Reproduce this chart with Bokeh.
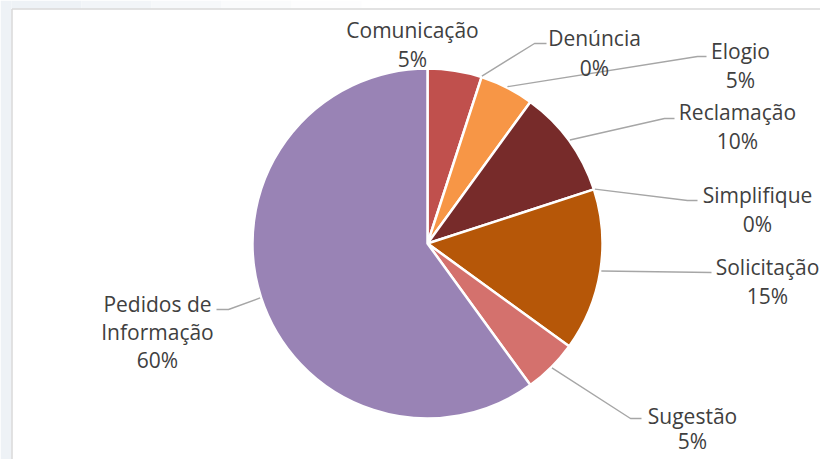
import math
from bokeh.plotting import figure
from bokeh.models import Range1d
from bokeh.core.properties import value
from bokeh.embed import file_html
from bokeh.resources import INLINE

# ---- data ----
categories = ["Comunicação", "Denúncia", "Elogio", "Reclamação", "Simplifique",
              "Solicitação", "Sugestão", "Pedidos de\nInformação"]
counts = [1, 0, 1, 2, 0, 3, 1, 12]
colors = ["#C0504D", "#F79646", "#F79646", "#772B2A", "#B65708",
          "#B65708", "#D4716D", "#9983B5"]

# ---- layout (pixel coordinates from the figure's top-left) ----
W, H = 820, 459


def fy(py):
    return H - py


CX, CY, R = 427, 243, 175
# label anchor (center of first text line) and leader elbow/end points; None = no leader
label_pos = [(412, 29), (594, 37), (740, 50), (737, 111), (757, 194),
             (767, 266), (692, 415), (157, 303)]
line_step = [29, 30, 29, 29, 29, 29, 25, 28]
leader_pts = [None,
              [(534, 43), (546, 43)],
              [(697, 56), (706, 56)],
              [(664, 118), (674, 118)],
              [(687, 200), (697, 200)],
              [(711, 272)],
              [(630, 418), (641, 418)],
              [(228, 309), (216, 309)]]

p = figure(width=W, height=H, output_backend="svg", toolbar_location=None,
           x_range=Range1d(0, W), y_range=Range1d(0, H),
           x_axis_type=None, y_axis_type=None, min_border=0,
           outline_line_color=None, background_fill_color="white",
           border_fill_color="white")
p.grid.visible = False

# page background (light gradient outside the chart frame) and the frame itself
p.quad(left=[0], right=[11], bottom=[0], top=[fy(0)], fill_color="#EEF2F6", line_color=None)
grad = ["#EEF2F6", "#F2F5F8", "#F6F8FA", "#FAFBFC", "#FDFDFE"]
for k, c in enumerate(grad):
    p.quad(left=[11 + k * 70], right=[11 + (k + 1) * 70], bottom=[fy(8)], top=[fy(0)],
           fill_color=c, line_color=None)
p.line(x=[11.5, 11.5], y=[0, fy(8.5)], line_color="#D9D9D9", line_width=1.5)
p.line(x=[11.5, W], y=[fy(8.5), fy(8.5)], line_color="#D9D9D9", line_width=1.5)

total = sum(counts)
cum = 0.0
starts, ends, mids = [], [], []
for c in counts:
    f0 = cum / total
    cum += c
    f1 = cum / total
    starts.append(math.pi / 2 - 2 * math.pi * f0)
    ends.append(math.pi / 2 - 2 * math.pi * f1)
    mids.append(math.pi / 2 - 2 * math.pi * (f0 + f1) / 2)

idx = [i for i, c in enumerate(counts) if c > 0]
p.wedge(x=[CX] * len(idx), y=[fy(CY)] * len(idx), radius=R, radius_units="screen",
        start_angle=[starts[i] for i in idx], end_angle=[ends[i] for i in idx],
        direction="clock", fill_color=[colors[i] for i in idx],
        line_color="white", line_width=2.5)

# leader lines
xs, ys = [], []
for i, pts in enumerate(leader_pts):
    if pts is None:
        continue
    sx = CX + (R + 1) * math.cos(mids[i])
    sy = CY - (R + 1) * math.sin(mids[i])
    xs.append([sx] + [q[0] for q in pts])
    ys.append([fy(sy)] + [fy(q[1]) for q in pts])
p.multi_line(xs=xs, ys=ys, line_color="#A6A6A6", line_width=1.4)

# labels
tx, ty, tt = [], [], []
for i, name in enumerate(categories):
    pct = round(100 * counts[i] / total)
    lines = name.split("\n") + [f"{pct}%"]
    lx, ly = label_pos[i]
    for k, s in enumerate(lines):
        tx.append(lx)
        ty.append(fy(ly + k * line_step[i]))
        tt.append(s)
p.text(x=tx, y=ty, text=tt, text_font=value("Open Sans"), text_font_size="21px",
       text_color="#404040", text_align="center", text_baseline="middle")

open("out.html", "w").write(file_html(p, INLINE))
